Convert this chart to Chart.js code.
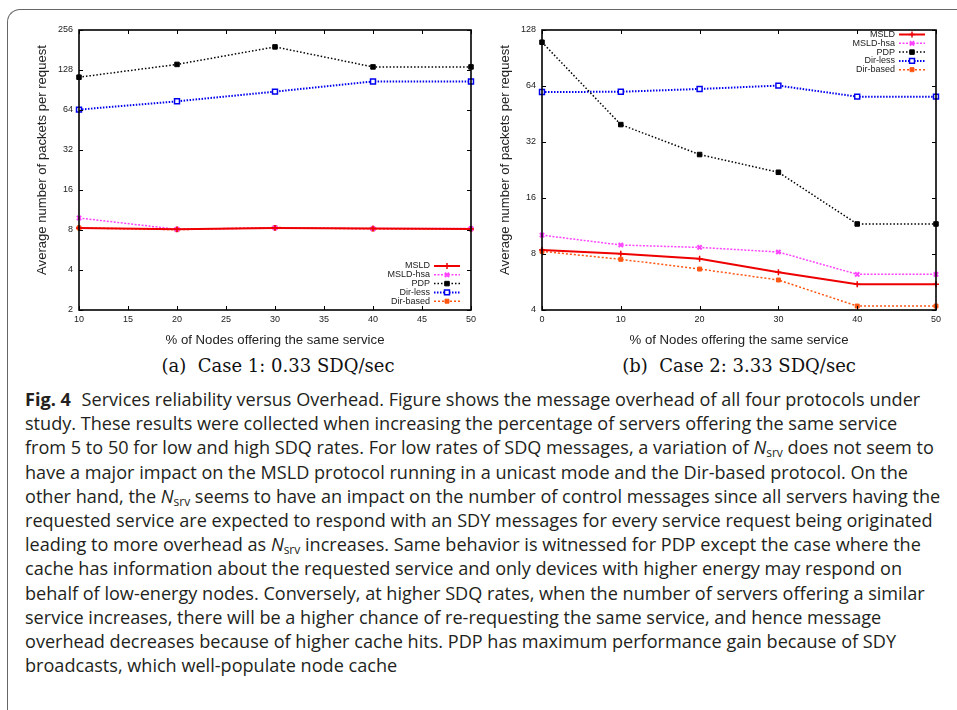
<!DOCTYPE html>
<html>
<head>
<meta charset="utf-8">
<script src="https://cdn.jsdelivr.net/npm/chart.js@4.4.1/dist/chart.umd.min.js"></script>
<style>
  html, body { margin: 0; padding: 0; background: #fff; }
  body { width: 957px; height: 710px; position: relative; overflow: hidden; }
  #frame {
    position: absolute; left: 7px; top: 9px; width: 1000px; height: 760px;
    border-top: 1.5px solid #666; border-left: 1.5px solid #666;
    border-top-left-radius: 13px;
  }
  #c1 { position: absolute; left: 0; top: 0; }
  #c2 { position: absolute; left: 480px; top: 0; }
  .sub {
    position: absolute; top: 355px; font-family: "DejaVu Serif", serif;
    font-size: 18px; color: #111; white-space: nowrap; transform: translateX(-50%);
  }
  #caption {
    position: absolute; left: 25px; top: 387px; font-family: "Open Sans", sans-serif;
    font-size: 18.1px; line-height: 24.2px; color: #231f20; white-space: nowrap;
  }
  #caption b { font-weight: 700; margin-right: 6px; }
  #caption sub { font-size: 12px; vertical-align: -3px; line-height: 0; }
</style>
</head>
<body>
<div id="frame"></div>
<canvas id="c1" width="480" height="350"></canvas>
<canvas id="c2" width="477" height="350"></canvas>
<div class="sub" style="left:278px">(a)&nbsp; Case 1: 0.33 SDQ/sec</div>
<div class="sub" style="left:739px">(b)&nbsp; Case 2: 3.33 SDQ/sec</div>
<div id="caption">
<b>Fig. 4</b> Services reliability versus Overhead. Figure shows the message overhead of all four protocols under<br>
study. These results were collected when increasing the percentage of servers offering the same service<br>
from 5 to 50 for low and high SDQ rates. For low rates of SDQ messages, a variation of <i>N</i><sub>srv</sub> does not seem to<br>
have a major impact on the MSLD protocol running in a unicast mode and the Dir-based protocol. On the<br>
other hand, the <i>N</i><sub>srv</sub> seems to have an impact on the number of control messages since all servers having the<br>
requested service are expected to respond with an SDY messages for every service request being originated<br>
leading to more overhead as <i>N</i><sub>srv</sub> increases. Same behavior is witnessed for PDP except the case where the<br>
cache has information about the requested service and only devices with higher energy may respond on<br>
behalf of low-energy nodes. Conversely, at higher SDQ rates, when the number of servers offering a similar<br>
service increases, there will be a higher chance of re-requesting the same service, and hence message<br>
overhead decreases because of higher cache hits. PDP has maximum performance gain because of SDY<br>
broadcasts, which well-populate node cache
</div>

<script>
// series names (legend order)
const seriesNames = ["MSLD", "MSLD-hsa", "PDP", "Dir-less", "Dir-based"];

// case 1: 0.33 SDQ/sec
const nodesCase1 = [10, 20, 30, 40, 50];
const msld1 = [8.3, 8.1, 8.3, 8.2, 8.15];
const msldHsa1 = [9.85, 8.1, 8.3, 8.2, 8.2];
const pdp1 = [113, 141, 191, 135, 135];
const dirLess1 = [64.4, 74.4, 88, 105, 105];
const dirBased1 = [8.3, 8.05, 8.35, 8.15, 8.15];

// case 2: 3.33 SDQ/sec
const nodesCase2 = [0, 10, 20, 30, 40, 50];
const msld2 = [8.4, 8.03, 7.55, 6.38, 5.5, 5.5];
const msldHsa2 = [10.1, 8.94, 8.68, 8.2, 6.22, 6.22];
const pdp2 = [110, 39.7, 27.4, 22, 11.6, 11.6];
const dirLess2 = [59.4, 59.6, 61.7, 64.3, 56.1, 56.1];
const dirBased2 = [8.27, 7.49, 6.64, 5.8, 4.2, 4.2];

// tick labels
const yTicks1 = [2, 4, 8, 16, 32, 64, 128, 256];
const yTicks2 = [4, 8, 16, 32, 64, 128];
const xTicks1 = [10, 15, 20, 25, 30, 35, 40, 45, 50];
const xTicks2 = [0, 10, 20, 30, 40, 50];

const xTitle = "% of Nodes offering the same service";
const yTitle = "Average number of packets per request";

const styles = [
  { color: "#ee0000", dash: [], width: 2, point: "cross", radius: 3, pw: 1.5, fill: "#ee0000" },
  { color: "#ff44ff", dash: [2, 1.5], width: 1.5, point: "crossRot", radius: 3, pw: 2, fill: "#ff44ff" },
  { color: "#000000", dash: [1.5, 2], width: 1.5, point: "rect", radius: 3.2, pw: 1, fill: "#000000" },
  { color: "#0000ee", dash: [1.5, 1.5], width: 2, point: "rect", radius: 3.5, pw: 1.5, fill: "#ffffff" },
  { color: "#ff5511", dash: [2, 2], width: 1.5, point: "rect", radius: 2.8, pw: 1, fill: "#ff5511" },
];

function makeDatasets(xs, series) {
  return series.map((vals, i) => {
    const s = styles[i];
    return {
      label: seriesNames[i],
      data: vals.map((v, j) => ({ x: xs[j], y: v })),
      borderColor: s.color,
      backgroundColor: s.fill,
      borderWidth: s.width,
      borderDash: s.dash,
      pointStyle: s.point,
      pointRadius: s.radius,
      pointBorderWidth: s.pw,
      pointBorderColor: s.color,
      pointBackgroundColor: s.fill,
      tension: 0,
      clip: false,
    };
  });
}

// gnuplot-like frame: border, inward ticks on all sides, y title, legend
const gnuplotFrame = {
  id: "gnuplotFrame",
  afterDatasetsDraw(chart, args, opts) {
    const ctx = chart.ctx;
    const a = chart.chartArea;
    const xs = chart.scales.x, ys = chart.scales.y;
    ctx.save();
    ctx.strokeStyle = "#000";
    ctx.lineWidth = 1;
    ctx.beginPath();
    ys.ticks.forEach(t => {
      const p = Math.round(ys.getPixelForValue(t.value)) + 0.5;
      ctx.moveTo(a.left, p); ctx.lineTo(a.left + 4, p);
      ctx.moveTo(a.right, p); ctx.lineTo(a.right - 4, p);
    });
    xs.ticks.forEach(t => {
      const p = Math.round(xs.getPixelForValue(t.value)) + 0.5;
      ctx.moveTo(p, a.bottom); ctx.lineTo(p, a.bottom - 4);
      ctx.moveTo(p, a.top); ctx.lineTo(p, a.top + 4);
    });
    ctx.stroke();
    ctx.lineWidth = 1.6;
    ctx.strokeRect(a.left, a.top, a.right - a.left, a.bottom - a.top);

    // y axis title
    ctx.fillStyle = "#222";
    ctx.font = "13.1px 'Liberation Sans', Arial, sans-serif";
    ctx.textAlign = "center";
    ctx.textBaseline = "middle";
    ctx.translate(opts.yTitleX, opts.yTitleY);
    ctx.rotate(-Math.PI / 2);
    ctx.fillText(yTitle, 0, 0);
    ctx.restore();

    // legend (text on the left, sample on the right)
    ctx.save();
    ctx.font = "9px 'Liberation Sans', Arial, sans-serif";
    ctx.textAlign = "right";
    ctx.textBaseline = "middle";
    const step = 8.8;
    const y0 = opts.legendTop ? a.top + 4.5 : a.bottom - 44;
    chart.data.datasets.forEach((ds, i) => {
      const y = y0 + i * step;
      const tx = a.right - 41;
      ctx.fillStyle = "#222";
      ctx.fillText(ds.label, tx, y);
      ctx.strokeStyle = ds.borderColor;
      ctx.lineWidth = ds.borderWidth;
      ctx.setLineDash(ds.borderDash);
      ctx.beginPath();
      ctx.moveTo(a.right - 37, y); ctx.lineTo(a.right - 11, y);
      ctx.stroke();
      ctx.setLineDash([]);
      ctx.fillStyle = ds.pointBackgroundColor;
      ctx.lineWidth = ds.pointBorderWidth;
      Chart.helpers.drawPoint(ctx, {
        pointStyle: ds.pointStyle, radius: ds.pointRadius,
        borderWidth: ds.pointBorderWidth, rotation: 0,
      }, a.right - 24, y);
    });
    ctx.restore();
  },
};

function buildChart(id, xs, series, xTickVals, yTickVals, yMin, yMax, yAxisWidth, padRight, frameOpts) {
  return new Chart(document.getElementById(id), {
    type: "line",
    data: { datasets: makeDatasets(xs, series) },
    options: {
      responsive: false,
      animation: false,
      devicePixelRatio: 1,
      layout: { padding: { top: 30, right: padRight, left: 0, bottom: 0 } },
      scales: {
        x: {
          type: "linear",
          min: xTickVals[0],
          max: xTickVals[xTickVals.length - 1],
          afterBuildTicks: s => { s.ticks = xTickVals.map(v => ({ value: v })); },
          afterFit: s => { s.height = 40; },
          grid: { display: false, drawTicks: false },
          border: { display: false },
          ticks: {
            padding: 4, color: "#222",
            font: { family: "'Liberation Sans', Arial, sans-serif", size: 9 },
            callback: v => String(v),
          },
          title: {
            display: true, text: xTitle, color: "#222",
            font: { family: "'Liberation Sans', Arial, sans-serif", size: 13.2 },
            padding: { top: 0, bottom: 2 },
          },
        },
        y: {
          type: "logarithmic",
          min: yMin,
          max: yMax,
          afterBuildTicks: s => { s.ticks = yTickVals.map(v => ({ value: v })); },
          afterFit: s => { s.width = yAxisWidth; },
          grid: { display: false, drawTicks: false },
          border: { display: false },
          ticks: {
            padding: 6, color: "#222",
            font: { family: "'Liberation Sans', Arial, sans-serif", size: 9 },
            callback: v => String(v),
          },
        },
      },
      plugins: {
        legend: { display: false },
        tooltip: { enabled: false },
        gnuplotFrame: frameOpts,
      },
    },
    plugins: [gnuplotFrame],
  });
}

buildChart("c1", nodesCase1, [msld1, msldHsa1, pdp1, dirLess1, dirBased1],
  xTicks1, yTicks1, 2, 256, 79, 8, { yTitleX: 42, yTitleY: 160, legendTop: false });
buildChart("c2", nodesCase2, [msld2, msldHsa2, pdp2, dirLess2, dirBased2],
  xTicks2, yTicks2, 4, 128, 62, 21, { yTitleX: 25, yTitleY: 160, legendTop: true });
</script>
</body>
</html>
